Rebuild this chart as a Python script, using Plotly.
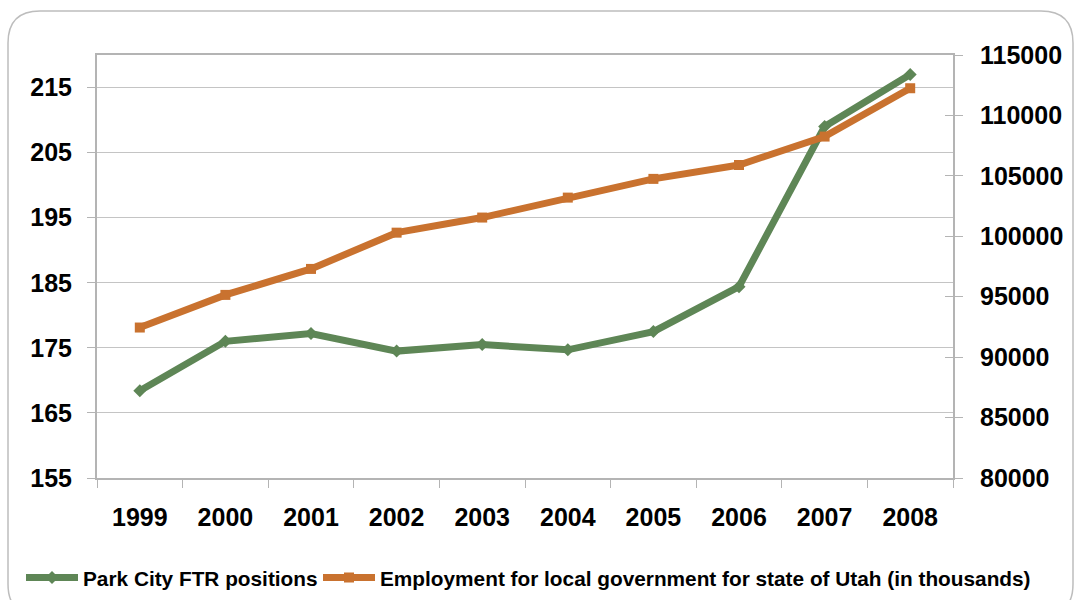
import plotly.graph_objects as go

# Chart data
years = ["1999", "2000", "2001", "2002", "2003", "2004", "2005", "2006", "2007", "2008"]
ftr_positions = [168.4, 176.0, 177.2, 174.5, 175.5, 174.7, 177.5, 184.4, 209.0, 217.0]
local_gov_employment = [92450, 95150, 97300, 100300, 101550, 103200, 104750, 105900, 108250, 112250]

GREEN = "#5E8656"
ORANGE = "#C9722F"
AXIS = "#B4B4B4"
GRID = "#C4C4C4"
FONT = "Arial, Liberation Sans, sans-serif"

fig = go.Figure()
fig.add_trace(go.Scatter(
    x=years, y=ftr_positions, name="Park City FTR positions",
    mode="lines+markers", line=dict(color=GREEN, width=7),
    marker=dict(symbol="diamond", size=10, color=GREEN),
    yaxis="y", legend="legend",
))
fig.add_trace(go.Scatter(
    x=years, y=local_gov_employment,
    name="Employment for local government for state of Utah (in thousands)",
    mode="lines+markers", line=dict(color=ORANGE, width=7),
    marker=dict(symbol="square", size=10, color=ORANGE),
    yaxis="y2", legend="legend2",
))

# plot area in pixels: x 97..953, y 55..478
L, R, T, B = 97, 953, 55, 478
W, H = R - L, B - T


def px(x):
    return (x - L) / W


def py(y):
    return (B - y) / H


# rounded outer frame
x0, x1, y0, y1, r = 8, 1073, 11, 616, 32
rx, ry = r / W, r / H
frame = (
    f"M {px(x0)},{py(y0) - ry} "
    f"Q {px(x0)},{py(y0)} {px(x0) + rx},{py(y0)} "
    f"L {px(x1) - rx},{py(y0)} "
    f"Q {px(x1)},{py(y0)} {px(x1)},{py(y0) - ry} "
    f"L {px(x1)},{py(y1) + ry} "
    f"Q {px(x1)},{py(y1)} {px(x1) - rx},{py(y1)} "
    f"L {px(x0) + rx},{py(y1)} "
    f"Q {px(x0)},{py(y1)} {px(x0)},{py(y1) + ry} Z"
)

legend_style = dict(
    orientation="h", yanchor="middle", xanchor="left", y=py(578),
    font=dict(size=20.8, family=FONT, weight="bold", color="black"),
    bgcolor="rgba(0,0,0,0)", itemwidth=52,
)

fig.update_layout(
    width=1075, height=600,
    margin=dict(l=L, r=1075 - R, t=T, b=600 - B, autoexpand=False),
    paper_bgcolor="white", plot_bgcolor="white",
    font=dict(family=FONT, color="black", size=25, weight="bold"),
    showlegend=True,
    legend=dict(x=px(21), **legend_style),
    legend2=dict(x=px(318), **legend_style),
    xaxis=dict(
        type="category", showgrid=False, showline=True, linecolor=AXIS, linewidth=2,
        mirror=True, ticks="outside", tickson="boundaries", ticklen=8, tickcolor=AXIS,
        tickwidth=1, ticklabelstandoff=16, tickfont=dict(size=25, weight="bold"),
        range=[-0.5, 9.5],
    ),
    yaxis=dict(
        range=[155, 220], tick0=155, dtick=10, showgrid=True, gridcolor=GRID, gridwidth=1,
        showline=True, linecolor=AXIS, linewidth=2, ticks="outside", ticklen=8,
        tickcolor=AXIS, tickwidth=1, ticklabelstandoff=10, zeroline=False,
        tickfont=dict(size=25, weight="bold"),
    ),
    yaxis2=dict(
        range=[80000, 115000], tick0=80000, dtick=5000, overlaying="y", side="right",
        showgrid=False, showline=True, linecolor=AXIS, linewidth=2, ticks="outside",
        ticklen=8, tickcolor=AXIS, tickwidth=1, tickformat="d", ticklabelstandoff=12,
        zeroline=False, tickfont=dict(size=25, weight="bold"),
    ),
    yaxis3=dict(
        range=[80000, 115000], tick0=80000, dtick=5000, overlaying="y", side="right",
        showgrid=False, showline=False, ticks="inside", ticklen=8, tickcolor=AXIS,
        tickwidth=1, showticklabels=False, zeroline=False,
    ),
    shapes=[dict(type="path", xref="paper", yref="paper", path=frame,
                 line=dict(color="#BDBDBD", width=1.5), fillcolor="rgba(0,0,0,0)",
                 layer="below")],
)

# invisible trace carrying the inner tick marks of the right axis
fig.add_trace(go.Scatter(x=[years[0]], y=[local_gov_employment[0]], yaxis="y3",
                         mode="markers", marker=dict(opacity=0), showlegend=False,
                         hoverinfo="skip"))

fig.write_html("out.html")
